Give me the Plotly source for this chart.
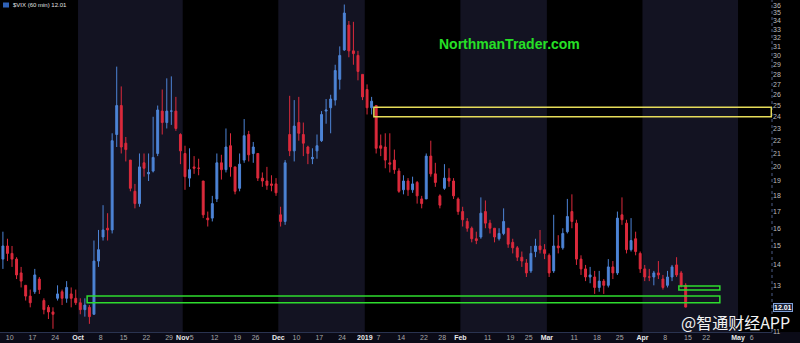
import numpy as np
import pandas as pd
import plotly.graph_objects as go

# ---------------- trading calendar (x categories) ----------------
holidays = ["2018-11-22", "2018-12-05", "2018-12-25", "2019-01-01",
            "2019-01-21", "2019-02-18", "2019-04-19"]
calendar = [d.strftime("%Y-%m-%d") for d in pd.bdate_range("2018-09-06", "2019-05-10")
            if d.strftime("%Y-%m-%d") not in holidays]

# ---------------- $VIX values (one candle per session) ----------------
vix_open = [14.3, 15.0, 14.6, 14.3, 13.6, 13.0, 12.5, 12.7, 13.3, 12.3,
            12.0, 11.8, 12.4, 12.7, 12.4, 12.6, 12.4, 12.2, 11.9, 12.0,
            11.7, 14.2, 15.5, 16.0, 15.9, 22.5, 25.0, 21.8, 20.5, 18.3,
            17.5, 20.3, 19.5, 19.7, 21.0, 24.5, 23.5, 24.5, 24.5, 22.5,
            21.0, 19.2, 20.0, 19.9, 19.0, 16.6, 16.6, 17.8, 20.3, 19.8,
            21.6, 20.0, 18.5, 20.5, 22.5, 21.0, 21.0, 19.2, 19.0, 18.8,
            18.8, 16.8, 16.4, 22.5, 21.2, 23.5, 22.5, 21.5, 20.6, 21.2,
            22.0, 24.5, 24.8, 25.5, 27.5, 30.6, 33.5, 30.5, 30.0, 28.0,
            26.5, 24.8, 25.0, 21.6, 21.5, 20.3, 20.5, 19.7, 18.4, 19.0,
            18.4, 18.9, 17.8, 17.8, 20.8, 19.5, 18.0, 18.5, 19.2, 19.0,
            17.8, 17.0, 16.4, 16.0, 15.4, 15.5, 17.0, 16.3, 16.0, 15.4,
            15.7, 16.0, 15.2, 14.9, 14.4, 14.1, 13.7, 14.7, 15.0, 14.8,
            14.5, 13.7, 15.0, 14.9, 15.8, 17.0, 16.3, 14.3, 13.8, 13.4,
            13.4, 12.9, 13.2, 13.0, 13.9, 13.6, 16.8, 16.3, 14.8, 15.4,
            14.6, 13.8, 13.4, 13.4, 13.6, 13.3, 13.0, 13.4, 14.0, 13.6,
            13.0]
vix_high = [15.8, 15.4, 15.0, 14.4, 13.9, 13.0, 12.8, 13.8, 13.4, 12.4,
            12.1, 12.0, 13.0, 12.8, 13.2, 12.9, 12.8, 12.4, 12.4, 12.1,
            15.3, 15.9, 17.4, 16.9, 22.6, 28.8, 26.8, 22.3, 20.5, 18.8,
            21.0, 21.0, 21.0, 24.0, 25.0, 26.5, 27.6, 27.8, 25.8, 22.6,
            21.6, 21.4, 20.8, 20.6, 19.0, 17.0, 18.0, 21.0, 20.9, 23.0,
            22.6, 20.0, 21.0, 23.8, 22.8, 21.9, 21.0, 19.6, 20.0, 19.4,
            19.2, 17.3, 20.5, 25.9, 25.5, 25.8, 23.5, 21.6, 21.4, 22.5,
            24.5, 25.6, 26.0, 29.0, 31.0, 36.1, 34.0, 33.9, 30.5, 28.0,
            27.0, 25.8, 25.0, 22.5, 22.6, 22.6, 21.3, 19.9, 19.4, 19.2,
            19.3, 19.0, 18.0, 21.0, 22.0, 20.3, 18.1, 20.2, 19.9, 19.2,
            17.9, 17.3, 16.6, 16.1, 15.8, 17.9, 17.7, 16.5, 16.0, 16.0,
            17.2, 16.0, 15.4, 15.0, 14.7, 14.3, 15.0, 15.4, 15.9, 15.1,
            14.6, 16.8, 15.6, 16.0, 17.8, 18.1, 16.5, 14.5, 14.0, 13.9,
            13.7, 13.7, 13.3, 14.3, 14.2, 17.0, 17.9, 16.5, 16.6, 15.8,
            14.7, 14.0, 13.8, 13.7, 14.2, 13.5, 13.7, 14.0, 14.4, 13.7,
            13.1]
vix_low = [13.8, 14.2, 13.9, 13.3, 12.9, 12.3, 12.0, 12.6, 12.6, 11.7,
           11.5, 11.1, 12.3, 12.1, 12.2, 12.0, 12.1, 11.7, 11.6, 11.3,
           11.7, 13.9, 15.3, 15.3, 15.7, 21.5, 21.0, 20.4, 18.3, 17.2,
           17.3, 19.3, 19.0, 19.6, 20.8, 22.5, 23.0, 23.3, 22.8, 20.2,
           18.4, 18.6, 19.5, 19.4, 16.6, 16.1, 16.4, 17.6, 19.1, 19.6,
           19.3, 18.1, 18.3, 20.3, 20.4, 20.3, 19.0, 18.6, 18.4, 18.3,
           18.0, 16.1, 16.2, 20.8, 20.4, 22.0, 20.8, 20.2, 20.2, 20.6,
           21.9, 23.4, 22.6, 25.0, 26.5, 30.5, 29.8, 29.0, 27.4, 25.5,
           24.2, 24.2, 21.0, 20.8, 19.9, 19.6, 19.5, 18.2, 18.1, 18.0,
           18.2, 17.5, 17.2, 17.8, 19.3, 18.6, 17.2, 18.4, 18.6, 17.8,
           16.8, 16.1, 15.8, 15.2, 15.1, 15.4, 16.0, 15.7, 15.2, 15.3,
           15.6, 14.9, 14.6, 14.2, 13.9, 13.4, 13.6, 14.4, 14.6, 14.3,
           13.4, 13.6, 14.6, 14.8, 15.7, 16.0, 14.0, 13.5, 13.2, 13.1,
           12.6, 12.7, 12.6, 12.9, 13.3, 13.5, 16.2, 14.6, 14.7, 14.5,
           13.6, 13.2, 13.2, 13.0, 13.3, 12.8, 12.9, 13.2, 13.4, 12.9,
           12.0]
vix_close = [15.0, 14.6, 14.3, 13.5, 13.2, 12.5, 12.2, 13.5, 12.8, 11.9,
             11.8, 11.7, 12.6, 12.4, 12.9, 12.4, 12.2, 11.9, 12.1, 11.6,
             14.2, 14.8, 15.9, 15.9, 22.0, 25.0, 21.5, 21.3, 18.5, 17.5,
             20.0, 19.9, 19.6, 20.7, 24.6, 23.5, 24.5, 24.5, 23.0, 21.2,
             19.3, 19.8, 19.9, 19.9, 16.8, 16.5, 17.5, 20.3, 19.8, 21.5,
             20.0, 18.3, 20.2, 22.4, 20.9, 21.5, 19.2, 19.0, 18.7, 18.7,
             18.2, 16.4, 20.3, 21.2, 23.2, 22.6, 21.8, 21.0, 20.7, 21.6,
             24.2, 24.6, 25.6, 28.4, 30.0, 35.0, 30.5, 30.2, 28.3, 25.8,
             24.8, 25.4, 21.4, 21.4, 20.5, 20.2, 19.8, 18.3, 19.0, 18.4,
             18.8, 18.0, 17.5, 20.8, 19.5, 18.9, 17.4, 19.2, 19.0, 18.0,
             17.0, 16.5, 16.0, 15.4, 15.3, 16.9, 16.3, 16.0, 15.5, 15.7,
             16.4, 15.1, 14.9, 14.4, 14.2, 13.6, 14.6, 15.0, 14.8, 14.6,
             13.6, 15.0, 14.9, 15.7, 16.7, 16.4, 14.3, 13.8, 13.4, 13.5,
             12.9, 13.2, 13.0, 13.9, 13.6, 16.6, 16.5, 14.8, 15.3, 14.7,
             13.8, 13.4, 13.4, 13.6, 13.5, 12.9, 13.4, 13.9, 13.5, 13.0,
             12.01]

# ---------------- axis labels ----------------
tick_dates = ["2018-09-10", "2018-09-17", "2018-09-24", "2018-10-01", "2018-10-08",
              "2018-10-15", "2018-10-22", "2018-10-29", "2018-11-01", "2018-11-05",
              "2018-11-12", "2018-11-19", "2018-11-26", "2018-12-03", "2018-12-10",
              "2018-12-17", "2018-12-24", "2019-01-02", "2019-01-07", "2019-01-14",
              "2019-01-22", "2019-01-28", "2019-02-01", "2019-02-11", "2019-02-19",
              "2019-02-25", "2019-03-01", "2019-03-11", "2019-03-18", "2019-03-25",
              "2019-04-01", "2019-04-08", "2019-04-15", "2019-04-22", "2019-05-01",
              "2019-05-06"]
tick_labels = ["10", "17", "24", "Oct", "8", "15", "22", "29", "Nov", "5",
               "12", "19", "26", "Dec", "10", "17", "24", "2019", "7", "14",
               "22", "28", "Feb", "11", "19", "25", "Mar", "11", "18", "25",
               "Apr", "8", "15", "22", "May", "6"]
month_labels = {"Oct", "Nov", "Dec", "2019", "Feb", "Mar", "Apr", "May"}
y_ticks = [11, 13, 14, 15, 16, 17, 18, 19, 20, 21, 22, 23, 24, 25, 26, 27, 28,
           29, 30, 31, 32, 33, 34, 35, 36]

shaded_months = [("2018-10-01", "2018-11-01"), ("2018-12-03", "2019-01-02"),
                 ("2019-02-01", "2019-03-01"), ("2019-04-01", "2019-05-01")]

# drawn zones (price levels, start/end sessions)
yellow_zone = (24.0, 24.85, "2019-01-04")
green_zone = (12.2, 12.5, "2018-10-03", "2019-04-25")
green_small = (12.78, 12.97, "2019-04-11", "2019-04-25")

def pos(d):
    return calendar.index(d) - 0.5

x_idx = list(range(len(vix_close)))
x_range = [-0.64, 168.96]
y_range = [np.log10(10.97), np.log10(36.7)]

UP = "#4d84d6"
DN = "#dc2a3c"
FONT = "Liberation Sans, Arial, sans-serif"

fig = go.Figure()
fig.add_trace(go.Candlestick(
    x=x_idx, open=vix_open, high=vix_high, low=vix_low, close=vix_close,
    increasing=dict(line=dict(color=UP, width=1), fillcolor=UP),
    decreasing=dict(line=dict(color=DN, width=1), fillcolor=DN),
    whiskerwidth=0, showlegend=False, hoverinfo="skip"))

shapes = []
for a, b in shaded_months:
    shapes.append(dict(type="rect", xref="x", yref="paper", x0=pos(a), x1=pos(b),
                       y0=0, y1=1, fillcolor="#131322", line=dict(width=0), layer="below"))
# x label strip
shapes.append(dict(type="rect", xref="paper", yref="paper", x0=0, x1=1.04, y0=-0.04, y1=0,
                   fillcolor="#0b0b17", line=dict(width=0), layer="below"))
# dotted right axis line
shapes.append(dict(type="line", xref="paper", yref="paper", x0=1, x1=1, y0=0, y1=1,
                   line=dict(color="#4a5a85", width=1, dash="dot")))
# zones
shapes.append(dict(type="rect", xref="x", yref="y", x0=pos(yellow_zone[2]), x1=x_range[1] - 0.15,
                   y0=yellow_zone[0], y1=yellow_zone[1],
                   line=dict(color="#e6dc5a", width=1.5), fillcolor="rgba(0,0,0,0)"))
shapes.append(dict(type="rect", xref="x", yref="y", x0=pos(green_zone[2]), x1=pos(green_zone[3]),
                   y0=green_zone[0], y1=green_zone[1],
                   line=dict(color="#2edc2e", width=1.5), fillcolor="rgba(0,0,0,0)"))
shapes.append(dict(type="rect", xref="x", yref="y", x0=pos(green_small[2]), x1=pos(green_small[3]),
                   y0=green_small[0], y1=green_small[1],
                   line=dict(color="#2edc2e", width=1.5), fillcolor="rgba(0,0,0,0)"))
# small symbol icon beside the title
shapes.append(dict(type="rect", xref="paper", yref="paper", x0=3 / 772, x1=9 / 772,
                   y0=1 - 7.5 / 332, y1=1 - 2.5 / 332, fillcolor="#2f62b8",
                   line=dict(width=0)))

ticktext = []
for t in tick_labels:
    if t in month_labels:
        ticktext.append("<span style='color:#e8e8e8'><b>%s</b></span>" % t)
    else:
        ticktext.append(t)

last = vix_close[-1]
annotations = [
    dict(text="$VIX (60 min) %.2f" % last, xref="paper", yref="paper", x=11 / 772, y=1,
         xanchor="left", yanchor="top", showarrow=False,
         font=dict(family=FONT, size=6, color="#e0e0e0")),
    dict(text="<b>NorthmanTrader.com</b>", xref="paper", yref="paper", x=509.5 / 772,
         y=(332 - 44) / 332, xanchor="center", yanchor="middle", showarrow=False,
         font=dict(family=FONT, size=14, color="#26e026")),
    dict(text="<b>%.2f</b>" % last, xref="paper", yref="y", x=1, y=np.log10(last),
         xanchor="left", yanchor="middle", xshift=1, showarrow=False,
         font=dict(family=FONT, size=7, color="#ffffff"),
         bgcolor="#172038", bordercolor="#7fa0d8", borderwidth=1, borderpad=0),
    dict(text="@智通财经APP", xref="paper", yref="paper", x=735 / 772, y=(332 - 322) / 332,
         xanchor="center", yanchor="middle", showarrow=False,
         font=dict(family="Noto Sans CJK SC", size=16, color="#f2f2f2")),
]

fig.update_layout(
    width=800, height=343,
    margin=dict(l=0, r=28, t=0, b=11, autoexpand=False),
    paper_bgcolor="#000000", plot_bgcolor="#000000",
    boxgap=0.4,
    shapes=shapes, annotations=annotations,
    showlegend=False,
    xaxis=dict(range=x_range, tickvals=[pos(d) for d in tick_dates], ticktext=ticktext,
               showgrid=False, zeroline=False, rangeslider=dict(visible=False),
               showline=True, linecolor="#2a3350", linewidth=1, ticks="", ticklen=0,
               tickangle=0, automargin=False,
               tickfont=dict(family=FONT, size=7, color="#a8a8a8"), ticklabelstandoff=-1),
    yaxis=dict(type="log", range=y_range, side="right", tickvals=y_ticks,
               ticktext=[str(v) for v in y_ticks], showgrid=False, zeroline=False,
               ticks="", showline=False, automargin=False,
               tickfont=dict(family=FONT, size=7, color="#bdbdbd")),
)

fig.write_html("out.html")
